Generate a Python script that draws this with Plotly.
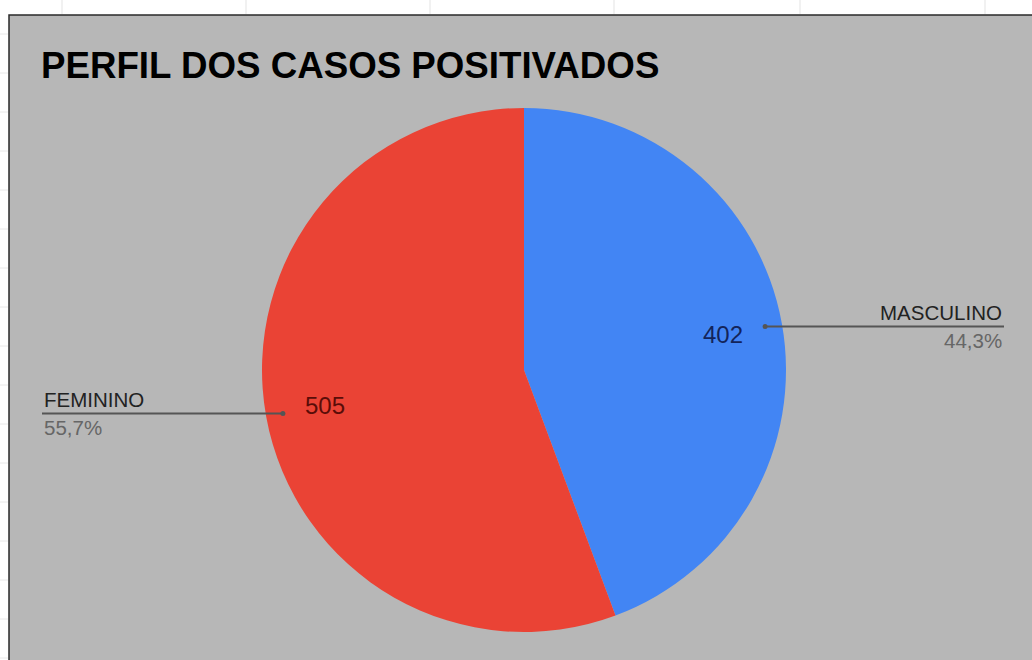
import math
import plotly.graph_objects as go

# ---- data ----
categories = ["MASCULINO", "FEMININO"]
values = [402, 505]
colors = ["#4285f4", "#ea4335"]
value_text_colors = ["#13245a", "#5a0d08"]
title_text = "PERFIL DOS CASOS POSITIVADOS"

W, H = 1032, 660
CX, CY, R = 524, 370, 262


def px(x):
    return x / W


def py(y):
    return 1 - y / H


fig = go.Figure()
fig.add_trace(go.Pie(
    labels=categories,
    values=values,
    marker=dict(colors=colors, line=dict(width=0)),
    sort=False,
    direction="clockwise",
    rotation=0,
    textinfo="none",
    hoverinfo="label+value+percent",
    showlegend=False,
    domain=dict(x=[px(CX - R), px(CX + R)], y=[py(CY + R), py(CY - R)]),
))

shapes = []
annotations = []

# chart area background with border
shapes.append(dict(type="rect", xref="paper", yref="paper",
                   x0=px(9), x1=px(W + 20), y0=py(H + 20), y1=py(15),
                   fillcolor="#b7b7b7", line=dict(color="#2a2a2a", width=1.5),
                   layer="below"))
# faint spreadsheet grid ticks outside the chart
for gx in [62, 246, 430, 614, 800, 985]:
    shapes.append(dict(type="line", xref="paper", yref="paper",
                       x0=px(gx), x1=px(gx), y0=py(0), y1=py(14),
                       line=dict(color="#e3e3e3", width=1), layer="below"))
for gy in range(34, H, 39):
    shapes.append(dict(type="line", xref="paper", yref="paper",
                       x0=px(0), x1=px(8), y0=py(gy), y1=py(gy),
                       line=dict(color="#e8e8e8", width=1), layer="below"))

# title
annotations.append(dict(text="<b>" + title_text + "</b>", xref="paper", yref="paper",
                        x=px(39), y=py(66), xanchor="left", yanchor="middle",
                        showarrow=False,
                        font=dict(family="Liberation Sans, Arial", size=36.7, color="#000000")))

total = sum(values)
start = 0.0
for i, (cat, val) in enumerate(zip(categories, values)):
    frac = val / total
    mid = (start + frac / 2) * 2 * math.pi
    start += frac
    dx, dy = math.sin(mid), -math.cos(mid)
    # value label inside slice
    lx, ly = CX + 0.77 * R * dx, CY + 0.77 * R * dy
    annotations.append(dict(text=str(val), xref="paper", yref="paper",
                            x=px(lx), y=py(ly), xanchor="center", yanchor="middle",
                            showarrow=False,
                            font=dict(family="Liberation Sans, Arial", size=24,
                                      color=value_text_colors[i])))
    # leader line
    sx, sy = CX + 0.935 * R * dx, CY + 0.935 * R * dy
    right = dx > 0
    ex = 1004 if right else 42
    shapes.append(dict(type="line", xref="paper", yref="paper",
                       x0=px(sx), x1=px(ex), y0=py(sy), y1=py(sy),
                       line=dict(color="#555555", width=2)))
    shapes.append(dict(type="circle", xref="paper", yref="paper",
                       x0=px(sx - 2.5), x1=px(sx + 2.5), y0=py(sy + 2.5), y1=py(sy - 2.5),
                       fillcolor="#555555", line=dict(width=0)))
    anchor = "right" if right else "left"
    pct = f"{frac * 100:.1f}%".replace(".", ",")
    annotations.append(dict(text=cat, xref="paper", yref="paper",
                            x=px(ex), y=py(sy - 14), xanchor=anchor, yanchor="middle",
                            showarrow=False,
                            font=dict(family="Liberation Sans, Arial", size=20.5, color="#222222")))
    annotations.append(dict(text=pct, xref="paper", yref="paper",
                            x=px(ex), y=py(sy + 14), xanchor=anchor, yanchor="middle",
                            showarrow=False,
                            font=dict(family="Liberation Sans, Arial", size=20.5, color="#666666")))

fig.update_layout(
    width=W, height=H,
    margin=dict(l=0, r=0, t=0, b=0),
    paper_bgcolor="#ffffff",
    plot_bgcolor="#ffffff",
    shapes=shapes,
    annotations=annotations,
)

fig.write_html("out.html", config={"displayModeBar": False},
               post_script="document.body.style.margin='0';document.body.style.overflow='hidden';")
